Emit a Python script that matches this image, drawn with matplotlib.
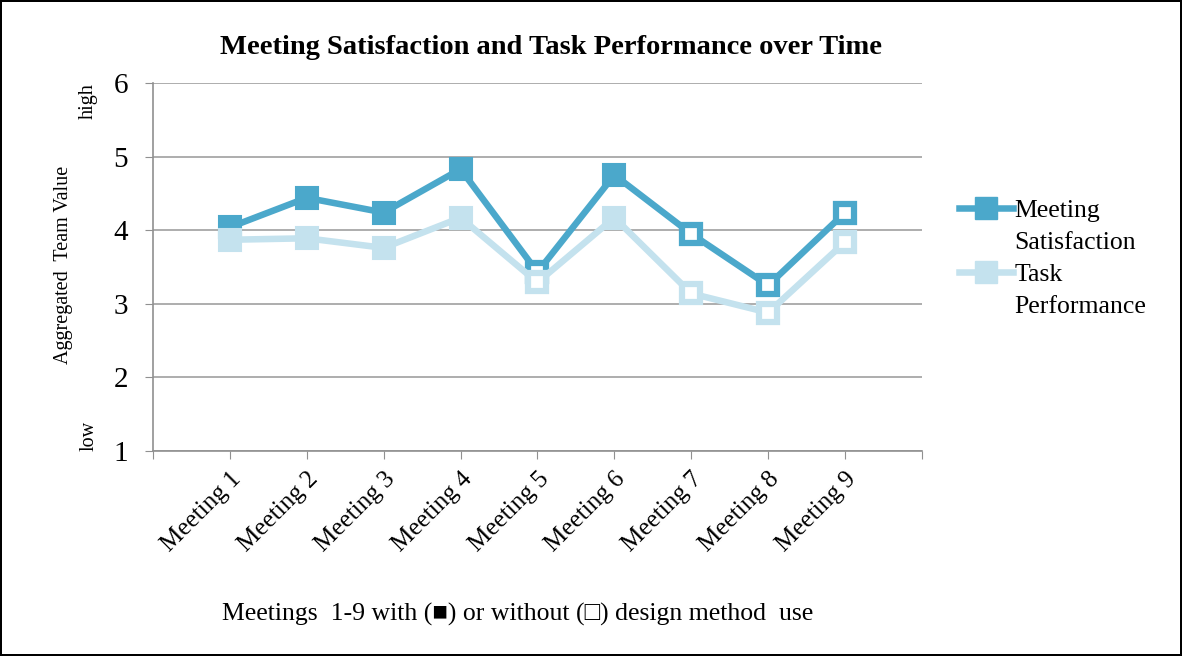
import matplotlib
matplotlib.use("Agg")
import matplotlib.pyplot as plt
from matplotlib.lines import Line2D

# data -----------------------------
meetings = ["Meeting 1", "Meeting 2", "Meeting 3", "Meeting 4", "Meeting 5",
            "Meeting 6", "Meeting 7", "Meeting 8", "Meeting 9"]
satisfaction = [4.04, 4.44, 4.24, 4.83, 3.43, 4.75, 3.95, 3.25, 4.24]
performance = [3.87, 3.89, 3.76, 4.17, 3.29, 4.17, 3.14, 2.88, 3.84]
design_used = [True, True, True, True, False, True, False, False, False]
# ----------------------------------

dark = "#4BA8CB"
light = "#C4E2EE"
serif = ["Liberation Serif", "DejaVu Serif"]

fig = plt.figure(figsize=(11.82, 6.56), dpi=100)
fig.patch.set_edgecolor("black")
fig.patch.set_linewidth(1.5)
ax = fig.add_axes([0.1294, 0.3125, 0.6506, 0.561])

x = list(range(1, len(meetings) + 1))

def draw(vals, color, z):
    ax.plot(x, vals, color=color, lw=4.7, zorder=z, solid_joinstyle="round")
    xf = [xi for xi, d in zip(x, design_used) if d]
    yf = [v for v, d in zip(vals, design_used) if d]
    xh = [xi for xi, d in zip(x, design_used) if not d]
    yh = [v for v, d in zip(vals, design_used) if not d]
    ax.plot(xf, yf, ls="none", marker="s", ms=16, mfc=color, mec=color, mew=1.5, zorder=z + 0.5)
    ax.plot(xh, yh, ls="none", marker="s", ms=13, mfc="white", mec=color, mew=4.5, zorder=z + 0.5)

draw(satisfaction, dark, 3)
draw(performance, light, 4)

ax.set_xlim(0, 10)
ax.set_ylim(1, 6)
ax.set_yticks([1, 2, 3, 4, 5, 6])
ax.set_xticks(range(0, 11))
ax.set_xticklabels([""] + meetings + [""], rotation=45, ha="right", rotation_mode="anchor",
                   fontsize=18, family=serif)
for lbl in ax.get_yticklabels():
    lbl.set_family(serif)
    lbl.set_fontsize(21)
ax.tick_params(axis="x", length=6, color="#909090", pad=6)
ax.tick_params(axis="y", length=6, color="#909090", pad=12)
ax.yaxis.grid(True, color="#A0A0A0", lw=1.2)
ax.set_axisbelow(True)
for s in ["top", "right"]:
    ax.spines[s].set_visible(False)
ax.spines["left"].set_color("#909090")
ax.spines["bottom"].set_color("#909090")
ax.spines["left"].set_linewidth(1.2)
ax.spines["bottom"].set_linewidth(1.2)

fig.text(0.466, 0.927, "Meeting Satisfaction and Task Performance over Time",
         ha="center", va="center", fontsize=20.5, fontweight="bold", family=serif)
fig.text(0.054, 0.596, "Aggregated  Team Value", rotation=90, ha="center", va="center",
         fontsize=14.5, family=serif)
fig.text(0.075, 0.846, "high", rotation=90, ha="center", va="center", fontsize=14.5, family=serif)
fig.text(0.075, 0.336, "low", rotation=90, ha="center", va="center", fontsize=14.5, family=serif)
fig.text(0.438, 0.063, "Meetings  1-9 with (\u25A0) or without (\u25A1) design method  use",
         ha="center", va="center", fontsize=18.5, family=["Liberation Serif", "DejaVu Sans"])

blank = Line2D([], [], color="none")
handles = [Line2D([], [], color=dark, lw=4.7, marker="s", ms=16), blank,
           Line2D([], [], color=light, lw=4.7, marker="s", ms=16), blank]
fig.legend(handles, ["Meeting", "Satisfaction", "Task", "Performance"],
           loc="center left", bbox_to_anchor=(0.792, 0.606), frameon=False,
           prop={"family": serif, "size": 18.5}, handlelength=2.1, handletextpad=0.05,
           labelspacing=0.35)

fig.savefig("out.png", dpi=100, edgecolor=fig.get_edgecolor())
